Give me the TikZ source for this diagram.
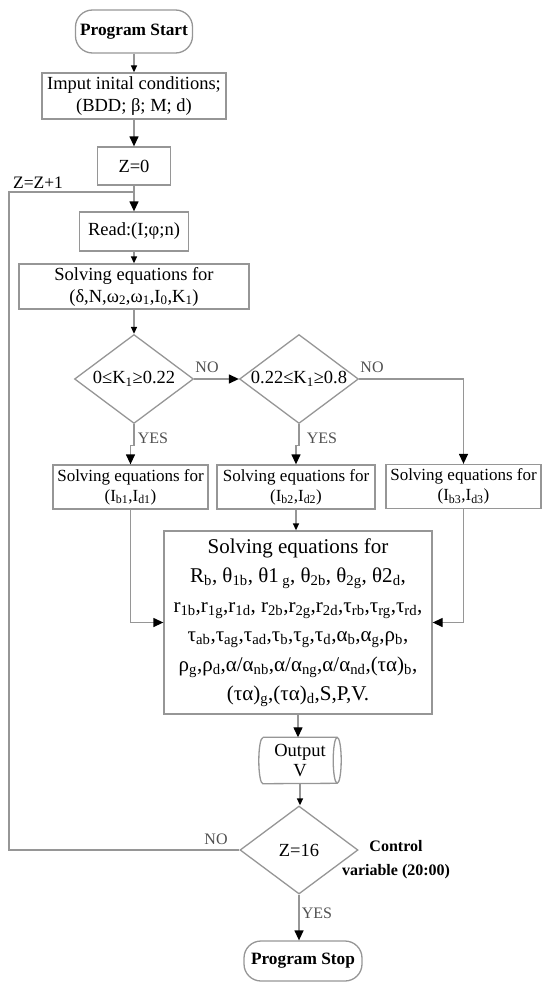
\documentclass[tikz,border=0pt]{standalone}
\usepackage{fontspec}
\setmainfont{Liberation Serif}
\usetikzlibrary{shapes.geometric,arrows.meta}
\definecolor{linegray}{RGB}{150,150,150}
\definecolor{labgray}{RGB}{80,80,80}
\newcommand{\dn}[1]{\textsubscript{#1}}

\begin{document}
\begin{tikzpicture}[x=1pt,y=1pt,
    line/.style={draw=linegray,line width=1.3pt},
    arr/.style={line,-{Triangle[length=10pt,width=9pt,color=black]}},
    arrs/.style={line,-{Triangle[length=7pt,width=6pt,color=black]}},
    box/.style={line,rectangle,inner sep=0pt,align=center,font=\fontsize{18.5}{22}\selectfont},
    rowbox/.style={box,minimum width=155pt,minimum height=44pt,font=\fontsize{17}{20}\selectfont},
    term/.style={line,rectangle,rounded corners=17pt,inner sep=0pt,font=\bfseries\fontsize{17.3}{20}\selectfont},
    dec/.style={line,diamond,aspect=1.337,inner sep=0pt,minimum width=119pt,minimum height=89pt,font=\fontsize{18.5}{22}\selectfont},
    lab/.style={text=labgray,inner sep=0pt,font=\fontsize{16}{18}\selectfont}]
    \useasboundingbox (0,0) rectangle (542,-982);
    \node[term,minimum width=117pt,minimum height=43pt] (start) at (134,-31.5) {Program Start};
    \node[box,minimum width=184pt,minimum height=46pt] (input) at (134,-96) {Imput inital conditions;\\(BDD; β; M; d)};
    \node[box,minimum width=73pt,minimum height=38pt] (zero) at (134,-166) {Z=0};
    \node[box,minimum width=109pt,minimum height=39pt] (read) at (134,-231.5) {Read:(I;φ;n)};
    \node[box,minimum width=230pt,minimum height=45pt] (solve) at (134,-286.5) {Solving equations for\\(δ,N,ω\dn{2},ω\dn{1},I\dn{0},K\dn{1})};
    \node[dec] (d1) at (134,-379) {0≤K\dn{1}≥0.22};
    \node[dec] (d2) at (299,-379) {0.22≤K\dn{1}≥0.8};
    \node[rowbox] (ba) at (130.5,-487) {Solving equations for\\(I\dn{b1},I\dn{d1})};
    \node[rowbox,minimum width=158pt] (bb) at (296,-487) {Solving equations for\\(I\dn{b2},I\dn{d2})};
    \node[rowbox] (bc) at (463.5,-486.5) {Solving equations for\\(I\dn{b3},I\dn{d3})};
    \node[box,minimum width=268pt,minimum height=183pt,font=\fontsize{21}{29.5}\selectfont] (big) at (298,-622.5) {Solving equations for\\R\dn{b}, θ\dn{1b}, θ1\,\dn{g}, θ\dn{2b}, θ\dn{2g}, θ2\dn{d},\\r\dn{1b},r\dn{1g},r\dn{1d}, r\dn{2b},r\dn{2g},r\dn{2d},τ\dn{rb},τ\dn{rg},τ\dn{rd},\\τ\dn{ab},τ\dn{ag},τ\dn{ad},τ\dn{b},τ\dn{g},τ\dn{d},α\dn{b},α\dn{g},ρ\dn{b},\\ρ\dn{g},ρ\dn{d},α/α\dn{nb},α/α\dn{ng},α/α\dn{nd},(τα)\dn{b},\\(τα)\dn{g},(τα)\dn{d},S,P,V.};
    \node[inner sep=0pt,minimum width=82pt,minimum height=46pt,align=center,font=\fontsize{18.5}{20}\selectfont] (out) at (300,-760.5) {Output\\V};
    \draw[line] ([xshift=4pt]out.north west) -- ([xshift=-4pt]out.north east) arc[start angle=90,end angle=-90,x radius=4pt,y radius=23pt] -- ([xshift=4pt]out.south west) arc[start angle=270,end angle=90,x radius=4pt,y radius=23pt];
    \draw[line] ([xshift=-4pt]out.north east) arc[start angle=90,end angle=270,x radius=4pt,y radius=23pt];
    \node[dec,minimum width=118pt,minimum height=88pt] (z16) at (299,-850) {Z=16};
    \node[term,minimum width=118pt,minimum height=40pt] (stop) at (303,-961) {Program Stop};
    \node[inner sep=0pt,font=\fontsize{17.5}{20}\selectfont] (zlab) at (38,-182.5) {Z=Z+1};
    \node[lab] (no1) at (207,-367) {NO};
    \node[lab] (no2) at (372,-367) {NO};
    \node[lab] (yes1) at (153,-438) {YES};
    \node[lab] (yes2) at (322,-438) {YES};
    \node[lab] (no3) at (216,-839) {NO};
    \node[lab] (yes3) at (317,-913) {YES};
    \node[inner sep=0pt,align=center,font=\bfseries\fontsize{16}{24}\selectfont] (ctrl) at (396,-860) {Control\\variable (20:00)};
    \coordinate (lp) at (134,-192);
    \coordinate (lc) at (9,-192);
    \draw[arrs] (start) -- (input);
    \draw[arr] (input) -- (zero);
    \draw[arr] (zero) -- (read);
    \draw[arrs] (read) -- (solve);
    \draw[arrs] (solve) -- (d1);
    \draw[arr] (d1) -- (d2);
    \draw[arr] (d2.east) -| (bc.north);
    \draw[arr] (d1.south) -- ++(0,-21) -| (ba.north);
    \draw[arr] (d2.south) -- ++(0,-21) -| (bb.north);
    \draw[arrs] (bb.south) -- (bb.south |- big.north);
    \draw[arr] (ba.south) |- (big.west);
    \draw[arr] (bc.south) |- (big.east);
    \draw[arr] (big.south) -- (big.south |- out.north);
    \draw[arrs] (out.south) -- (out.south |- z16.north);
    \draw[arr] (z16.south) -- (z16.south |- stop.north);
    \draw[line] (z16.west) -| (lc) -- (lp);
\end{tikzpicture}
\end{document}
